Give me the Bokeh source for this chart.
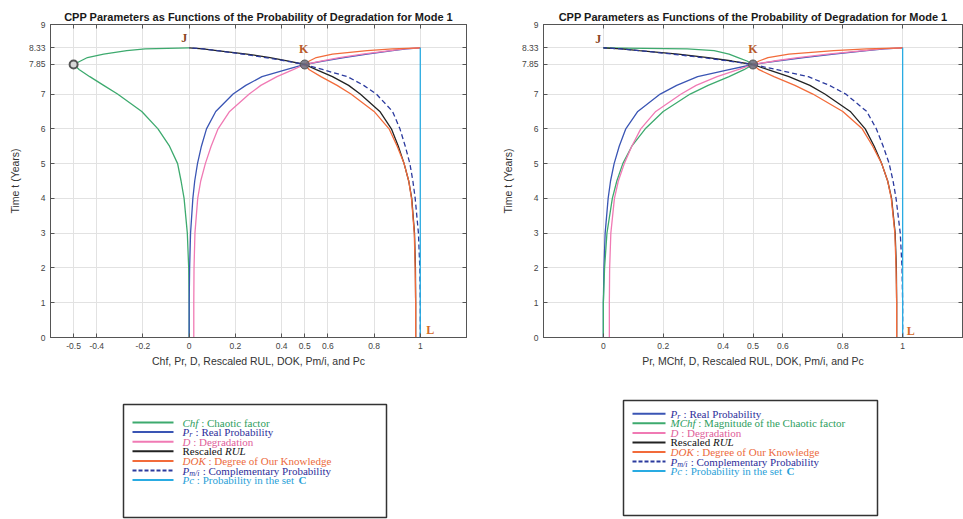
from bokeh.plotting import figure
from bokeh.layouts import column, row
from bokeh.models import Range1d, FixedTicker, LinearAxis, ColumnDataSource
from bokeh.core.properties import value
from bokeh.embed import file_html
from bokeh.resources import INLINE

# ---------------- data ----------------
t    = [0, 1, 2, 3, 4, 4.5, 5, 5.5, 6, 6.5, 7, 7.25, 7.5, 7.7, 7.85, 7.95, 8.05, 8.15, 8.25, 8.3, 8.33]
pr   = [0, 0.0, 0.002, 0.006, 0.016, 0.024, 0.036, 0.053, 0.075, 0.115, 0.19, 0.245, 0.315, 0.42, 0.5, 0.58, 0.67, 0.77, 0.88, 0.94, 1.0]
deg  = [0.02, 0.02, 0.021, 0.025, 0.037, 0.05, 0.07, 0.095, 0.125, 0.175, 0.26, 0.31, 0.38, 0.45, 0.5, 0.57, 0.65, 0.75, 0.87, 0.93, 1.0]
rul  = [0.98, 0.98, 0.979, 0.975, 0.963, 0.95, 0.93, 0.905, 0.875, 0.825, 0.74, 0.69, 0.62, 0.55, 0.5, 0.43, 0.35, 0.25, 0.12, 0.06, 0.0]
dok  = [0.98, 0.98, 0.978, 0.974, 0.962, 0.95, 0.93, 0.9, 0.865, 0.8, 0.7, 0.64, 0.57, 0.52, 0.5, 0.52, 0.55, 0.62, 0.77, 0.88, 1.0]
pmi  = [1.0, 1.0, 0.998, 0.992, 0.978, 0.968, 0.955, 0.935, 0.912, 0.88, 0.81, 0.755, 0.685, 0.58, 0.5, 0.42, 0.33, 0.23, 0.12, 0.06, 0.0]
chf  = [0, 0, -0.002, -0.008, -0.022, -0.035, -0.05, -0.085, -0.135, -0.205, -0.31, -0.37, -0.43, -0.475, -0.5, -0.47, -0.44, -0.37, -0.27, -0.19, 0]
mchf = [0, 0, 0.004, 0.012, 0.03, 0.045, 0.065, 0.095, 0.14, 0.2, 0.29, 0.35, 0.42, 0.47, 0.5, 0.48, 0.45, 0.42, 0.37, 0.28, 0]
t_pc = [0, 8.33]
pc   = [1, 1]

pt_O = (-0.5, 7.85)
pt_J = (0, 8.33)
pt_K = (0.5, 7.85)
pt_L = (1, 0)

yticks = [0, 1, 2, 3, 4, 5, 6, 7, 7.85, 8.33, 9]
xticks_left = [-0.5, -0.4, -0.2, 0, 0.2, 0.4, 0.5, 0.6, 0.8, 1]
xticks_right = [0, 0.2, 0.4, 0.5, 0.6, 0.8, 1]

title_text = "CPP Parameters as Functions of the Probability of Degradation for Mode 1"
xlabel_left = "Chf, Pr, D, Rescaled RUL, DOK, Pm/i, and Pc"
xlabel_right = "Pr, MChf, D, Rescaled RUL, DOK, Pm/i, and Pc"
ylabel = "Time t (Years)"

C_GREEN = "#3daa6e"
C_BLUE = "#3a55b4"
C_PINK = "#f07ab4"
C_BLACK = "#222222"
C_ORANGE = "#f26b3a"
C_NAVY = "#2b3a9e"
C_CYAN = "#29abe2"

SANS = "Liberation Sans"
SERIF = "Liberation Serif"


def fmt(v):
    return "%g" % v


def make_plot(width, xr, xticks, xlabel, bl, br, ylab_standoff):
    p = figure(width=width, height=370, x_range=Range1d(*xr), y_range=Range1d(0, 9),
               output_backend="svg", toolbar_location=None,
               min_border_left=bl, min_border_right=br, min_border_top=24, min_border_bottom=33)
    p.title.text = title_text
    p.title.align = "center"
    p.title.text_font = SANS
    p.title.text_font_size = "11px"
    p.title.text_font_style = "bold"
    p.title.text_color = "#1a1a1a"
    p.title.standoff = 4
    p.background_fill_color = "white"
    p.border_fill_color = "white"
    p.outline_line_color = "#555555"
    p.outline_line_width = 1

    xt = FixedTicker(ticks=xticks)
    yt = FixedTicker(ticks=yticks)
    p.xaxis.ticker = xt
    p.yaxis.ticker = yt
    p.xaxis.major_label_overrides = {v: fmt(v) for v in xticks}
    p.yaxis.major_label_overrides = {v: fmt(v) for v in yticks}
    for ax in (p.xaxis, p.yaxis):
        ax.major_tick_in = 4
        ax.major_tick_out = 0
        ax.minor_tick_line_color = None
        ax.axis_line_color = "#555555"
        ax.major_tick_line_color = "#555555"
        ax.major_label_text_font = SANS
        ax.major_label_text_font_size = "8.5px"
        ax.major_label_text_color = "#444444"
        ax.axis_label_text_font = SANS
        ax.axis_label_text_font_size = "10.5px"
        ax.axis_label_text_font_style = "normal"
        ax.axis_label_text_color = "#333333"
    p.xaxis.axis_label = xlabel
    p.yaxis.axis_label = ylabel
    p.xaxis.major_label_standoff = 5
    p.xaxis.axis_label_standoff = 3
    p.yaxis.major_label_standoff = 5
    p.yaxis.axis_label_standoff = ylab_standoff

    # box ticks on top and right (no labels)
    for loc, tk, tl in (("above", xt, xticks), ("right", yt, yticks)):
        ax = LinearAxis(ticker=tk, major_tick_in=4, major_tick_out=0,
                        major_label_overrides={v: "" for v in tl},
                        major_label_text_font_size="8px", major_label_standoff=0,
                        minor_tick_line_color=None, axis_line_color="#555555",
                        major_tick_line_color="#555555")
        p.add_layout(ax, loc)

    p.xgrid.grid_line_color = "#e2e2e2"
    p.ygrid.grid_line_color = "#e2e2e2"
    return p


def add_common(p, first_x, first_color, order_first):
    lw = 1.3
    if order_first == "chf":
        p.line(first_x, t, line_color=first_color, line_width=lw)
        p.line(pr, t, line_color=C_BLUE, line_width=lw)
    else:
        p.line(pr, t, line_color=C_BLUE, line_width=lw)
        p.line(first_x, t, line_color=first_color, line_width=lw)
    p.line(deg, t, line_color=C_PINK, line_width=lw)
    p.line(rul, t, line_color=C_BLACK, line_width=lw)
    p.line(dok, t, line_color=C_ORANGE, line_width=lw)
    p.line(pmi, t, line_color=C_NAVY, line_width=lw, line_dash="5 3")
    p.line(pc, t_pc, line_color=C_CYAN, line_width=lw)


def point_label(p, pt, txt, color, dx, dy):
    p.text(x=[pt[0]], y=[pt[1]], text=[txt], text_font=value(SERIF), text_font_style="bold",
           text_font_size="12px", text_color=color, text_align="center", text_baseline="middle",
           x_offset=dx, y_offset=dy)


# ---------------- left plot ----------------
pL = make_plot(481, (-0.6, 1.2), xticks_left, xlabel_left, 50, 15, 5)
add_common(pL, chf, C_GREEN, "chf")
pL.scatter([pt_O[0]], [pt_O[1]], size=8, marker="circle", fill_color="#d8d8d8",
           line_color="#555555", line_width=2)
pL.scatter([pt_K[0]], [pt_K[1]], size=9, marker="circle", fill_color="#6a6a7a",
           line_color="#555555", line_width=1, fill_alpha=0.85)
point_label(pL, pt_J, "J", "#8a4520", -5, -10)
point_label(pL, pt_K, "K", "#b85a2a", -1, -15)
point_label(pL, pt_L, "L", "#d46a28", 10, -8)

# ---------------- right plot ----------------
pR = make_plot(482, (-0.2, 1.2), xticks_right, xlabel_right, 62, 1, 5)
add_common(pR, mchf, C_GREEN, "pr")
pR.scatter([pt_K[0]], [pt_K[1]], size=9, marker="circle", fill_color="#6a6a7a",
           line_color="#555555", line_width=1, fill_alpha=0.85)
point_label(pR, pt_J, "J", "#8a4520", -5, -9)
point_label(pR, pt_K, "K", "#b85a2a", 0, -15)
point_label(pR, pt_L, "L", "#d46a28", 8, -7)

# ---------------- legends ----------------
lg = figure(width=963, height=149, x_range=Range1d(0, 963), y_range=Range1d(519, 370),
            output_backend="svg", toolbar_location=None, min_border=0)
lg.axis.visible = False
lg.grid.visible = False
lg.outline_line_color = None
lg.background_fill_color = "white"
lg.border_fill_color = "white"

WID = {' ': .25, '\u00a0': .25, ':': .278, '/': .278, 'C': .667, 'h': .5, 'f': .278, 'P': .611,
       'r': .389, 'D': .722, 'O': .722, 'K': .667, 'M': .833, 'm': .722, 'i': .278, 'c': .444,
       'R': .611, 'U': .722, 'L': .556, 'e': .444, 's': .389, 'a': .5, 'l': .278, 'd': .5,
       't': .278, 'b': .5, 'y': .5, 'n': .5, 'o': .5, 'g': .5, 'u': .5, 'v': .5, 'k': .5,
       'p': .5, 'w': .722, 'E': .611, 'T': .611, 'N': .722}

left_entries = [
    (C_GREEN, "solid", "#2e9e5e", [("Chf", "italic", 0), (" : Chaotic factor", "normal", 0)]),
    (C_BLUE, "solid", "#2e2e9a", [("P", "italic", 0), ("r", "italic", 1), (" : Real Probability", "normal", 0)]),
    (C_PINK, "solid", "#e0609a", [("D", "italic", 0), (" : Degradation", "normal", 0)]),
    (C_BLACK, "solid", "#111111", [("Rescaled ", "normal", 0), ("RUL", "italic", 0)]),
    (C_ORANGE, "solid", "#ec6a3c", [("DOK", "italic", 0), (" : Degree of Our Knowledge", "normal", 0)]),
    (C_NAVY, "dashed", "#2e2e9a", [("P", "italic", 0), ("m/i", "italic", 1), (" : Complementary Probability", "normal", 0)]),
    (C_CYAN, "solid", "#2a9fd8", [("Pc", "italic", 0), (" : Probability in the set ", "normal", 0), ("C", "bold", 0)]),
]
right_entries = [
    (C_BLUE, "solid", "#2e2e9a", [("P", "italic", 0), ("r", "italic", 1), (" : Real Probability", "normal", 0)]),
    (C_GREEN, "solid", "#2e9e5e", [("MChf", "italic", 0), (" : Magnitude of the Chaotic factor", "normal", 0)]),
    (C_PINK, "solid", "#e0609a", [("D", "italic", 0), (" : Degradation", "normal", 0)]),
    (C_BLACK, "solid", "#111111", [("Rescaled ", "normal", 0), ("RUL", "italic", 0)]),
    (C_ORANGE, "solid", "#ec6a3c", [("DOK", "italic", 0), (" : Degree of Our Knowledge", "normal", 0)]),
    (C_NAVY, "dashed", "#2e2e9a", [("P", "italic", 0), ("m/i", "italic", 1), (" : Complementary Probability", "normal", 0)]),
    (C_CYAN, "solid", "#2a9fd8", [("Pc", "italic", 0), (" : Probability in the set ", "normal", 0), ("C", "bold", 0)]),
]

FS = 11.0
FS_SUB = 8.0
tx_main = dict(x=[], y=[], text=[], style=[], color=[])
tx_sub = dict(x=[], y=[], text=[], style=[], color=[])


def draw_legend(entries, box, x_line0, x_line1, x_text, y0, dy):
    lg.quad(left=[box[0]], right=[box[1]], top=[box[2]], bottom=[box[3]],
            fill_color=None, line_color="#333333", line_width=1.5)
    for i, (lc, dash, tc, segs) in enumerate(entries):
        y = y0 + i * dy
        lg.line([x_line0, x_line1], [y, y], line_color=lc, line_width=2,
                line_dash=("4 2" if dash == "dashed" else "solid"))
        x = x_text
        for s, st, sub in segs:
            s = s.replace(" ", "\u00a0")
            size = FS_SUB if sub else FS
            d = tx_sub if sub else tx_main
            d["x"].append(x)
            d["y"].append(y + (2.5 if sub else 0))
            d["text"].append(s)
            d["style"].append(st)
            d["color"].append(tc)
            x += sum(WID.get(ch, 0.48) for ch in s) * size + (0.5 if sub else 0)


draw_legend(left_entries, (123, 386, 404, 517), 132, 173, 182, 422, 9.6)
draw_legend(right_entries, (623, 877, 400, 515), 632, 665, 670, 413.3, 9.55)

lg.text(x="x", y="y", text="text", source=ColumnDataSource(tx_main), text_font=value(SERIF),
        text_font_style="style", text_font_size="11px", text_color="color",
        text_align="left", text_baseline="middle")
lg.text(x="x", y="y", text="text", source=ColumnDataSource(tx_sub), text_font=value(SERIF),
        text_font_style="style", text_font_size="8px", text_color="color",
        text_align="left", text_baseline="middle")

layout = column(row(pL, pR), lg)
open("out.html", "w").write(file_html(layout, INLINE))
